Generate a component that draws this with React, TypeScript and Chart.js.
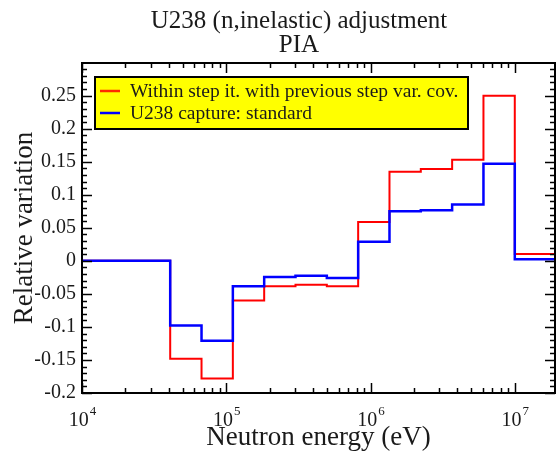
import React, { useEffect, useRef } from "react";
import { Chart, registerables } from "chart.js";

Chart.register(...registerables);

// Group boundaries (eV), ascending
const energyBounds = [1e4, 4.0868e4, 6.7379e4, 1.1109e5, 1.8316e5, 3.0197e5, 4.9787e5, 8.2085e5, 1.3534e6, 2.2313e6, 3.6788e6, 6.0653e6, 1e7, 1.964e7];
// Relative variation per group (lower bound -> next bound)
const redValues = [0, -0.148, -0.178, -0.06, -0.0385, -0.036, -0.0385, 0.059, 0.135, 0.139, 0.153, 0.25, 0.0105];
const blueValues = [0, -0.098, -0.121, -0.0385, -0.0245, -0.0225, -0.026, 0.029, 0.075, 0.0765, 0.0855, 0.147, 0.0025];
const seriesNames = ["Within step it. with previous step var. cov.", "U238 capture: standard"];
const titleLines = ["U238 (n,inelastic) adjustment", "PIA"];
const xTitle = "Neutron energy (eV)";
const yTitle = "Relative variation";
const xDecades = [4, 5, 6, 7];

const SERIF = "'Liberation Serif', 'DejaVu Serif', serif";
const TEXT = "#1a1a1a";

function stepPoints(values: number[]) {
  const pts = values.map((v, i) => ({ x: energyBounds[i], y: v }));
  pts.push({ x: energyBounds[energyBounds.length - 1], y: values[values.length - 1] });
  return pts;
}

const framePlugin = {
  id: "graceFrame",
  afterDraw(chart: any) {
    const ctx: CanvasRenderingContext2D = chart.ctx;
    const { left, right, top, bottom } = chart.chartArea;
    const xs = chart.scales.x;
    const ys = chart.scales.y;
    ctx.save();
    ctx.strokeStyle = "#000";
    ctx.lineWidth = 2;
    ctx.strokeRect(left, top, right - left, bottom - top);

    // ticks
    ctx.lineWidth = 1.5;
    const tick = (x1: number, y1: number, x2: number, y2: number) => {
      ctx.beginPath();
      ctx.moveTo(x1, y1);
      ctx.lineTo(x2, y2);
      ctx.stroke();
    };
    const majLen = 10, minLen = 5;
    for (const d of xDecades) {
      for (let k = 1; k <= 9; k++) {
        const v = k * Math.pow(10, d);
        if (v < xs.min || v > xs.max) continue;
        const px = Math.round(xs.getPixelForValue(v)) + 0.5;
        const len = k === 1 ? majLen : minLen;
        tick(px, bottom, px, bottom - len);
        tick(px, top, px, top + len);
      }
    }
    for (let i = -20; i <= 30; i++) {
      const v = i / 100;
      if (v < ys.min - 1e-9 || v > ys.max + 1e-9) continue;
      const py = Math.round(ys.getPixelForValue(v)) + 0.5;
      const len = i % 5 === 0 ? majLen : minLen;
      tick(left, py, left + len, py);
      tick(right, py, right - len, py);
    }

    // x tick labels 10^n
    ctx.fillStyle = TEXT;
    ctx.textBaseline = "alphabetic";
    ctx.textAlign = "left";
    for (const d of xDecades) {
      const px = xs.getPixelForValue(Math.pow(10, d));
      ctx.font = `20px ${SERIF}`;
      const wb = ctx.measureText("10").width;
      ctx.font = `13px ${SERIF}`;
      const we = ctx.measureText(String(d)).width;
      const x0 = px - (wb + we) / 2;
      ctx.font = `20px ${SERIF}`;
      ctx.fillText("10", x0, 426);
      ctx.font = `13px ${SERIF}`;
      ctx.fillText(String(d), x0 + wb + 1, 415);
    }

    // titles
    ctx.textAlign = "center";
    ctx.textBaseline = "middle";
    ctx.font = `25px ${SERIF}`;
    ctx.fillText(titleLines[0], 299, 21);
    ctx.fillText(titleLines[1], 299, 45);
    ctx.font = `27px ${SERIF}`;
    ctx.fillText(xTitle, (left + right) / 2, 438);
    ctx.save();
    ctx.translate(25, (top + bottom) / 2);
    ctx.rotate(-Math.PI / 2);
    ctx.fillText(yTitle, 0, 0);
    ctx.restore();

    // legend
    const bx = 95, by = 77, bw = 373, bh = 52;
    ctx.fillStyle = "#ffff00";
    ctx.fillRect(bx, by, bw, bh);
    ctx.lineWidth = 2;
    ctx.strokeStyle = "#000";
    ctx.strokeRect(bx, by, bw, bh);
    const rows = [
      { y: 91, color: "#ff2a00", label: seriesNames[0] },
      { y: 113, color: "#0000ff", label: seriesNames[1] },
    ];
    ctx.textAlign = "left";
    ctx.font = `19.5px ${SERIF}`;
    for (const r of rows) {
      ctx.strokeStyle = r.color;
      ctx.lineWidth = 2.5;
      tick(100, r.y, 120, r.y);
      ctx.fillStyle = TEXT;
      ctx.fillText(r.label, 130, r.y + 1);
    }
    ctx.restore();
  },
};

export default function App() {
  const ref = useRef<HTMLCanvasElement | null>(null);
  useEffect(() => {
    document.body.style.margin = "0";
    const canvas = ref.current;
    if (!canvas) return;
    const chart = new Chart(canvas, {
      type: "line",
      data: {
        datasets: [
          {
            label: seriesNames[0],
            data: stepPoints(redValues),
            borderColor: "#ff0000",
            borderWidth: 2,
            stepped: "before",
            pointRadius: 0,
            fill: false,
            order: 2,
          },
          {
            label: seriesNames[1],
            data: stepPoints(blueValues),
            borderColor: "#0000ff",
            borderWidth: 2.5,
            stepped: "before",
            pointRadius: 0,
            fill: false,
            order: 1,
          },
        ],
      },
      options: {
        responsive: false,
        animation: false,
        devicePixelRatio: 1,
        parsing: false,
        layout: { padding: { top: 63, right: 2, left: 0, bottom: 0 } },
        plugins: {
          legend: { display: false },
          title: { display: false },
          tooltip: { enabled: false },
        },
        scales: {
          x: {
            type: "logarithmic",
            min: 1e4,
            max: 1.9e7,
            grid: { display: false, drawTicks: false },
            border: { display: false },
            ticks: { display: false },
            afterFit: (s: any) => {
              s.height = 63;
            },
          },
          y: {
            type: "linear",
            min: -0.2,
            max: 0.2995,
            grid: { display: false, drawTicks: false },
            border: { display: false },
            ticks: {
              stepSize: 0.05,
              includeBounds: false,
              padding: 6,
              color: TEXT,
              font: { family: SERIF, size: 20 },
              callback: (v: any) => String(Math.round(Number(v) * 100) / 100),
            },
            afterFit: (s: any) => {
              s.width = 82;
            },
          },
        },
      } as any,
      plugins: [framePlugin],
    });
    return () => chart.destroy();
  }, []);
  return (
    <div style={{ width: 557, height: 456, background: "#fff" }}>
      <canvas ref={ref} width={557} height={456} style={{ display: "block", width: 557, height: 456 }} />
    </div>
  );
}
